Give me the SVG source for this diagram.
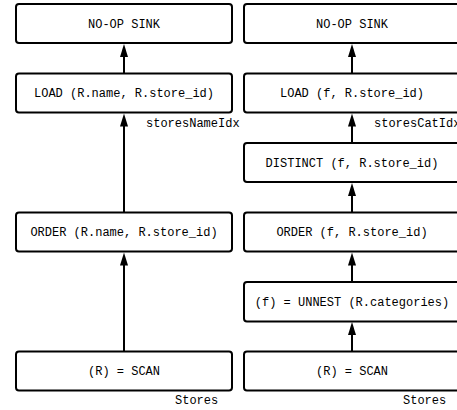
<svg xmlns="http://www.w3.org/2000/svg" width="457" height="410" viewBox="0 0 457 410">
  <style>
    .box { fill: #ffffff; stroke: #000000; stroke-width: 2; }
    .lbl { font-family: "Liberation Mono", "DejaVu Sans Mono", monospace; font-size: 12px; fill: #000000; text-anchor: middle; }
    .note { font-family: "Liberation Mono", "DejaVu Sans Mono", monospace; font-size: 12px; fill: #000000; }
    .edge { stroke: #000000; stroke-width: 2; fill: none; }
    .head { fill: #000000; stroke: none; }
  </style>
  <rect width="457" height="410" fill="#ffffff"/>

  <!-- connectors: each runs from the top of the child up to the parent -->
  <g id="connectors">
    <!-- left plan -->
    <line class="edge" x1="124" y1="73.5" x2="124" y2="55"/>
    <polygon class="head" points="124,44 120,57 128,57"/>
    <line class="edge" x1="124" y1="212.5" x2="124" y2="124"/>
    <polygon class="head" points="124,113.5 120,126.5 128,126.5"/>
    <line class="edge" x1="124" y1="351.5" x2="124" y2="263"/>
    <polygon class="head" points="124,252.5 120,265.5 128,265.5"/>
    <!-- right plan -->
    <line class="edge" x1="352" y1="73.5" x2="352" y2="55"/>
    <polygon class="head" points="352,44 348,57 356,57"/>
    <line class="edge" x1="352" y1="143" x2="352" y2="124"/>
    <polygon class="head" points="352,113.5 348,126.5 356,126.5"/>
    <line class="edge" x1="352" y1="212.5" x2="352" y2="194"/>
    <polygon class="head" points="352,183 348,196 356,196"/>
    <line class="edge" x1="352" y1="282" x2="352" y2="263"/>
    <polygon class="head" points="352,252.5 348,265.5 356,265.5"/>
    <line class="edge" x1="352" y1="351.5" x2="352" y2="333"/>
    <polygon class="head" points="352,322 348,335 356,335"/>
  </g>

  <!-- left plan: name index -->
  <g id="l-sink">
    <rect class="box" x="16" y="4" width="216" height="39" rx="3"/>
    <text class="lbl" x="124" y="27.5">NO-OP SINK</text>
  </g>
  <g id="l-load">
    <rect class="box" x="16" y="73.5" width="216" height="39" rx="3"/>
    <text class="lbl" x="124" y="97">LOAD (R.name, R.store_id)</text>
    <text class="note" x="146" y="127">storesNameIdx</text>
  </g>
  <g id="l-order">
    <rect class="box" x="16" y="212.5" width="216" height="39" rx="3"/>
    <text class="lbl" x="124" y="236">ORDER (R.name, R.store_id)</text>
  </g>
  <g id="l-scan">
    <rect class="box" x="16" y="351.5" width="216" height="39" rx="3"/>
    <text class="lbl" x="124" y="375">(R) = SCAN</text>
    <text class="note" x="175" y="404">Stores</text>
  </g>

  <!-- right plan: category index -->
  <g id="r-sink">
    <rect class="box" x="244" y="4" width="216" height="39" rx="3"/>
    <text class="lbl" x="352" y="27.5">NO-OP SINK</text>
  </g>
  <g id="r-load">
    <rect class="box" x="244" y="73.5" width="216" height="39" rx="3"/>
    <text class="lbl" x="352" y="97">LOAD (f, R.store_id)</text>
    <text class="note" x="374" y="127">storesCatIdx</text>
  </g>
  <g id="r-distinct">
    <rect class="box" x="244" y="143" width="216" height="39" rx="3"/>
    <text class="lbl" x="352" y="166.5">DISTINCT (f, R.store_id)</text>
  </g>
  <g id="r-order">
    <rect class="box" x="244" y="212.5" width="216" height="39" rx="3"/>
    <text class="lbl" x="352" y="236">ORDER (f, R.store_id)</text>
  </g>
  <g id="r-unnest">
    <rect class="box" x="244" y="282" width="216" height="39.5" rx="3"/>
    <text class="lbl" x="352" y="305.5">(f) = UNNEST (R.categories)</text>
  </g>
  <g id="r-scan">
    <rect class="box" x="244" y="351.5" width="216" height="39" rx="3"/>
    <text class="lbl" x="352" y="375">(R) = SCAN</text>
    <text class="note" x="403" y="404">Stores</text>
  </g>
</svg>
